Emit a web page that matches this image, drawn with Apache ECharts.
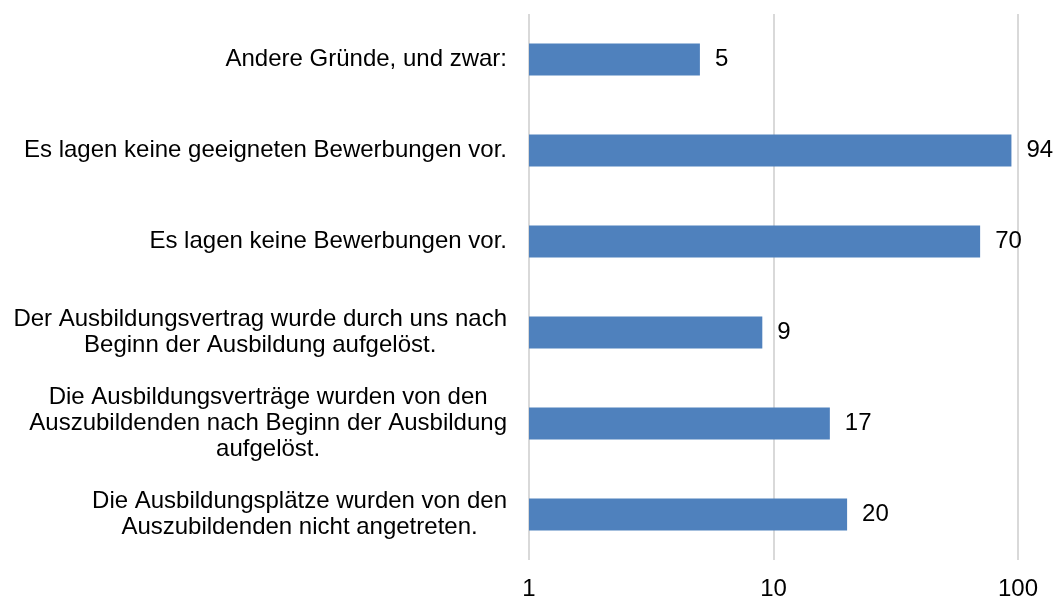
<!DOCTYPE html>
<html>
<head>
<meta charset="utf-8">
<script src="https://cdn.jsdelivr.net/npm/echarts@6/dist/echarts.min.js"></script>
<style>
  html, body { margin: 0; padding: 0; background: #fff; }
  #chart { width: 1057px; height: 601px; }
</style>
</head>
<body>
<div id="chart"></div>
<script>
// categories from bottom to top (category axis starts at the bottom)
const categories = [
  'Die Ausbildungsplätze wurden von den\nAuszubildenden nicht angetreten.',
  'Die Ausbildungsverträge wurden von den\nAuszubildenden nach Beginn der Ausbildung\naufgelöst.',
  'Der Ausbildungsvertrag wurde durch uns nach\nBeginn der Ausbildung aufgelöst.',
  'Es lagen keine Bewerbungen vor.',
  'Es lagen keine geeigneten Bewerbungen vor.',
  'Andere Gründe, und zwar:'
]
const values = [20, 17, 9, 70, 94, 5]
const axisMin = 1
const axisMax = 100

const font = "'Liberation Sans', Arial, sans-serif"
const chart = echarts.init(document.getElementById('chart'))

const option = {
  animation: false,
  grid: {
    left: 529,
    right: 39,
    top: 14,
    bottom: 38,
  },
  xAxis: {
    type: 'log',
    logBase: 10,
    min: axisMin,
    max: axisMax,
    axisLine: { show: false },
    axisTick: { show: false },
    splitLine: { show: true, lineStyle: { color: '#d9d9d9', width: 2 } },
    axisLabel: {
      color: '#000',
      fontSize: 24,
      fontFamily: font,
      margin: 17,
    },
  },
  yAxis: {
    type: 'category',
    data: categories,
    axisLine: { show: false },
    axisTick: { show: false },
    splitLine: { show: false },
    axisLabel: {
      margin: 22,
      align: 'right',
      formatter: function (value) {
        return '{c|' + value + '}'
      },
      rich: {
        c: {
          align: 'center', // multi-line labels centred within their block
          color: '#000',
          fontSize: 24,
          lineHeight: 26,
          fontFamily: font,
        },
      },
    },
  },
  series: [
    {
      type: 'bar',
      data: values,
      barWidth: 32,
      itemStyle: { color: '#4f81bd' },
      label: {
        show: true,
        position: 'right',
        distance: 15,
        color: '#000',
        fontSize: 24,
        fontFamily: font,
      },
    },
  ],
}
chart.setOption(option)
</script>
</body>
</html>
